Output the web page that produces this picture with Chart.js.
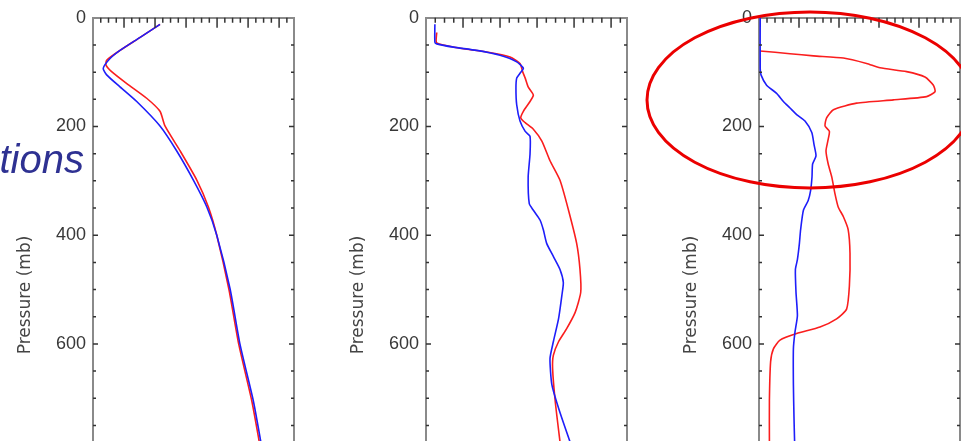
<!DOCTYPE html>
<html>
<head>
<meta charset="utf-8">
<script src="https://cdn.jsdelivr.net/npm/chart.js@4.4.1/dist/chart.umd.min.js"></script>
<style>
  html, body { margin: 0; padding: 0; width: 961px; height: 441px; overflow: hidden; background: #fff; }
  .panel { position: absolute; top: 0; width: 300px; height: 590px; }
  #p1 { left: 0; }
  #p2 { left: 333px; }
  #p3 { left: 666px; }
  .caption {
    position: absolute; left: -200px; width: 284px; top: 139px;
    text-align: right; white-space: nowrap;
    font: italic 40px/40px "Liberation Sans", Arial, sans-serif; color: #2e3192;
  }
  svg.mark { position: absolute; left: 0; top: 0; }
</style>
</head>
<body>
<div class="panel" id="p1"><canvas id="c1" width="300" height="590"></canvas></div>
<div class="panel" id="p2"><canvas id="c2" width="300" height="590"></canvas></div>
<div class="panel" id="p3"><canvas id="c3" width="300" height="590"></canvas></div>
<div class="caption">tions</div>
<svg class="mark" width="961" height="441">
  <ellipse cx="810" cy="100" rx="163" ry="88" fill="none" stroke="rgb(235,0,0)" stroke-width="3"/>
</svg>

<script>
/* ── Data: pressure (mb) and x value per profile ─────────────── */
const P1_BLUE_P = [12, 36, 60, 75, 93, 105, 127, 154, 199, 245, 299, 348, 400, 499, 601, 705, 780, 810];
const P1_BLUE_X = [21.6, 15.2, 8.7, 5.5, 3.3, 4.4, 8.7, 14.1, 21.6, 27.0, 32.4, 36.7, 39.9, 44.2, 47.4, 51.7, 54.1, 55.0];
const P1_RED_P  = [12, 36, 60, 78, 87, 99, 121, 148, 172, 199, 245, 299, 348, 400, 499, 601, 705, 780, 810];
const P1_RED_X  = [21.6, 15.2, 8.7, 4.4, 4.2, 6.0, 10.9, 17.3, 21.6, 23.2, 28.1, 33.5, 37.2, 39.9, 43.8, 47.0, 51.2, 53.6, 54.5];

const P2_BLUE_P = [12, 45, 48, 54, 60, 69, 81, 93, 102, 111, 130, 160, 190, 209, 218, 251, 293, 342, 354, 372, 390, 415, 439, 463, 487, 511, 554, 596, 627, 675, 718, 780, 800];
const P2_BLUE_X = [2.4, 2.4, 2.9, 7.4, 13.7, 20.0, 24.5, 26.3, 25.4, 24.5, 24.3, 24.5, 25.4, 26.8, 28.1, 28.1, 27.6, 27.9, 29.0, 30.8, 31.7, 32.6, 34.4, 36.2, 37.1, 36.7, 35.8, 34.4, 33.5, 34.0, 35.8, 38.9, 40.0];
const P2_RED_P  = [27, 46, 56, 63, 72, 84, 99, 111, 127, 142, 154, 172, 184, 193, 205, 227, 263, 299, 354, 415, 463, 505, 542, 572, 596, 621, 645, 705, 780, 800];
const P2_RED_X  = [2.9, 2.9, 9.2, 16.4, 22.7, 25.4, 26.1, 26.8, 27.6, 29.0, 28.1, 26.3, 25.6, 26.8, 29.0, 31.3, 33.5, 36.2, 38.5, 40.7, 41.6, 41.8, 40.3, 38.0, 35.8, 34.4, 34.2, 34.9, 36.2, 36.6];

const P3_BLUE_P = [0, 93, 105, 124, 139, 154, 166, 178, 190, 211, 233, 254, 269, 293, 318, 336, 354, 390, 415, 445, 463, 505, 548, 578, 609, 675, 736, 780, 800];
const P3_BLUE_X = [0.3, 0.3, 0.5, 1.9, 4.4, 6.1, 7.75, 9.4, 11.5, 13.2, 13.75, 14.25, 13.4, 13.25, 12.9, 12.3, 11.1, 10.4, 10.1, 9.6, 9.1, 9.25, 9.6, 9.0, 8.6, 8.6, 8.75, 8.9, 9.0];
const P3_RED_P  = [61, 66, 70, 74, 84, 92, 99, 109, 124, 136, 145, 151, 157, 169, 184, 199, 209, 227, 245, 269, 293, 324, 348, 366, 390, 433, 493, 536, 554, 569, 581, 593, 609, 633, 705, 780, 800];
const P3_RED_X  = [0.25, 7.75, 13.6, 21.1, 26.9, 30.25, 36.9, 41.5, 43.6, 44.0, 41.9, 33.6, 24.4, 18.6, 16.9, 16.5, 17.6, 17.2, 16.75, 17.3, 18.2, 19.0, 19.8, 21.1, 22.3, 22.75, 22.6, 21.9, 19.4, 15.25, 9.4, 5.25, 3.6, 2.9, 2.6, 2.6, 2.6];

/* ── Axes ────────────────────────────────────────────────────── */
const P_MAX     = 1020;
const P_LABELS  = [0, 200, 400, 600, 800, 1000];
const P_TICKS   = 200;
const P_MINOR   = 50;
const X_MAX     = [64.8, 54.3, 50.25];
const X_MAJOR   = [10, 10, 10];
const X_MINOR   = [2.5, 2.5, 2];

const RED  = 'rgb(250,30,30)';
const BLUE = 'rgb(30,30,250)';
const AXIS = '#8a8a8a';
const TXT  = '#383838';

/* inward tick marks on top / left / right edges */
const innerTicks = {
  id: 'innerTicks',
  afterDraw(chart, args, opts) {
    const { ctx, chartArea: a, scales } = chart;
    const x = scales.x, y = scales.y;
    ctx.save();
    ctx.strokeStyle = '#333';
    ctx.lineWidth = 1.5;
    ctx.beginPath();
    for (let v = opts.minor; v < x.max - 0.5; v += opts.minor) {
      const px = x.getPixelForValue(v);
      const r = v / opts.major;
      const len = Math.abs(r - Math.round(r)) < 1e-6 ? 10 : 5;
      ctx.moveTo(px, a.top); ctx.lineTo(px, a.top + len);
    }
    for (let v = P_MINOR; v <= P_MAX; v += P_MINOR) {
      const py = y.getPixelForValue(v);
      const len = v % P_TICKS === 0 ? 5 : 3;
      ctx.moveTo(a.left, py);  ctx.lineTo(a.left + len, py);
      ctx.moveTo(a.right, py); ctx.lineTo(a.right - len, py);
    }
    ctx.stroke();
    ctx.restore();
  }
};

function profile(xs, ps) {
  return xs.map((v, i) => ({ x: v, y: ps[i] }));
}

function line(data, color) {
  return {
    data,
    showLine: true,
    borderColor: color,
    borderWidth: 1.6,
    pointRadius: 0,
    tension: 0.2,
  };
}

function makePanel(id, idx, blue, red) {
  new Chart(document.getElementById(id), {
    type: 'scatter',
    data: { datasets: [line(blue, BLUE), line(red, RED)] },
    plugins: [innerTicks],
    options: {
      responsive: false,
      animation: false,
      layout: { padding: { top: 0, bottom: 17, left: 0, right: 0 } },
      plugins: {
        legend: { display: false },
        tooltip: { enabled: false },
        innerTicks: { major: X_MAJOR[idx], minor: X_MINOR[idx] },
      },
      scales: {
        x: {
          type: 'linear', position: 'top', min: 0, max: X_MAX[idx],
          ticks: { display: false },
          grid: { display: false, drawTicks: false },
          border: { display: true, color: AXIS, width: 2 },
          afterFit(s) { s.height = 12; },
        },
        y: {
          type: 'linear', position: 'left', reverse: true, min: 0, max: P_MAX,
          ticks: { padding: 7, color: TXT, font: { family: 'Liberation Sans', size: 18 } },
          afterBuildTicks(s) { s.ticks = P_LABELS.map(v => ({ value: v })); },
          grid: { display: false, drawTicks: false },
          border: { display: true, color: AXIS, width: 2 },
          title: {
            display: true, text: 'Pressure (mb)', color: '#444',
            font: { family: 'DejaVu Sans', size: 17 }, padding: { top: 15, bottom: 0 },
          },
          afterFit(s) { s.width = 93; },
        },
        y2: {
          type: 'linear', position: 'right', reverse: true, min: 0, max: P_MAX,
          ticks: { display: false },
          grid: { display: false, drawTicks: false },
          border: { display: true, color: AXIS, width: 2 },
          afterFit(s) { s.width = 6; },
        },
      },
    },
  });
}

makePanel('c1', 0, profile(P1_BLUE_X, P1_BLUE_P), profile(P1_RED_X, P1_RED_P));
makePanel('c2', 1, profile(P2_BLUE_X, P2_BLUE_P), profile(P2_RED_X, P2_RED_P));
makePanel('c3', 2, profile(P3_BLUE_X, P3_BLUE_P), profile(P3_RED_X, P3_RED_P));
</script>
</body>
</html>
